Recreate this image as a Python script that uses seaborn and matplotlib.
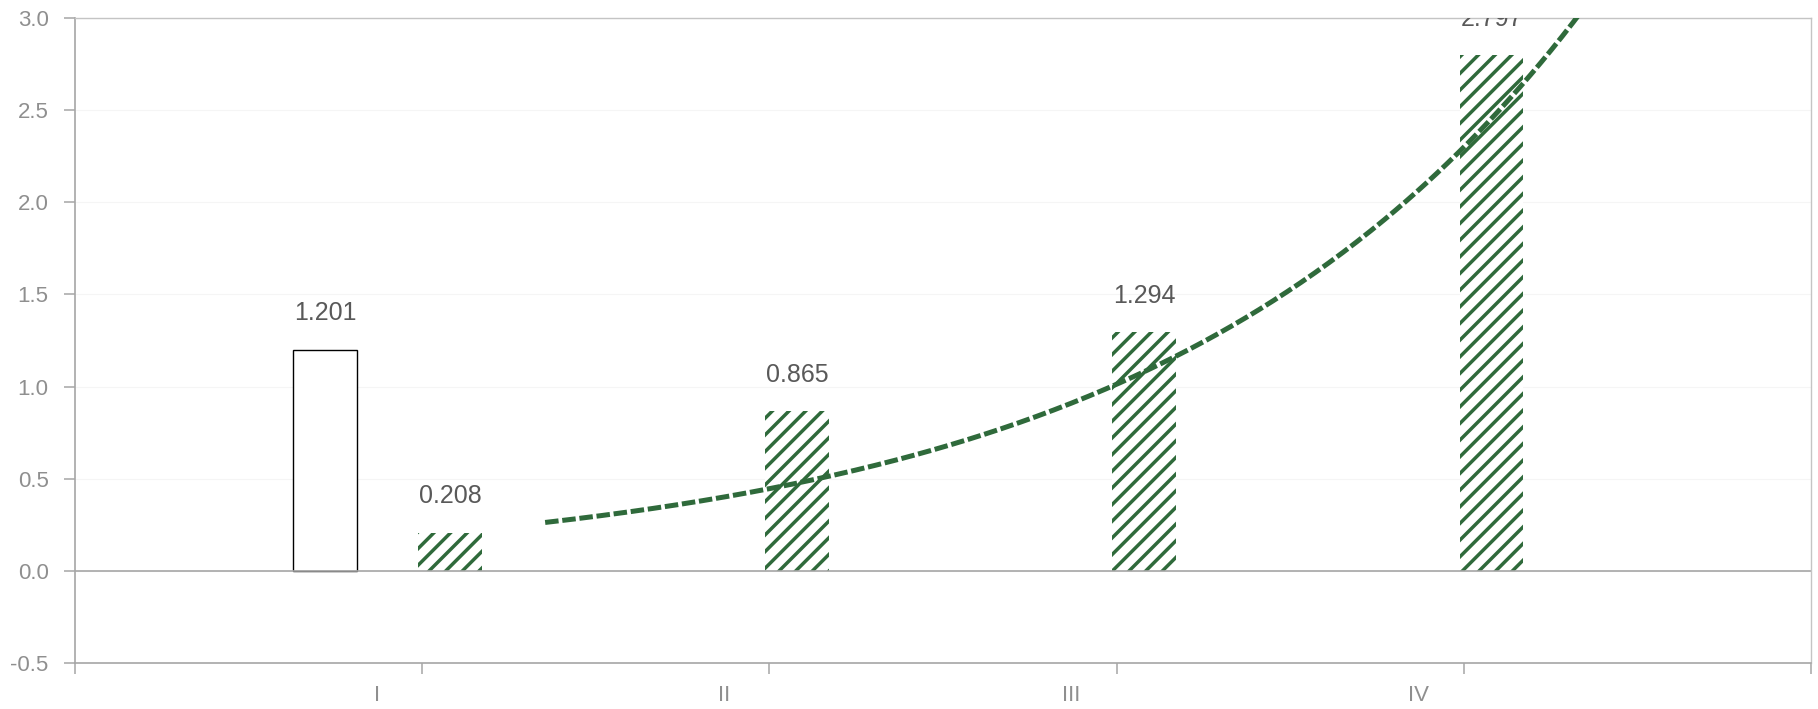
import numpy as np
import pandas as pd
import seaborn as sns
import matplotlib
matplotlib.use('Agg')
import matplotlib.pyplot as plt

# data
categories = ['I', 'II', 'III', 'IV']
base_cats = ['I']
base_vals = [1.201]
growth_vals = [0.208, 0.865, 1.294, 2.797]

green = '#2f6a3b'
label_grey = '#595959'
tick_grey = '#8f8f8f'
axis_grey = '#a6a6a6'

sns.set_style('white')
plt.rcParams['font.family'] = ['Liberation Sans', 'DejaVu Sans']
plt.rcParams['hatch.linewidth'] = 2.5

df = pd.concat([
    pd.DataFrame({'cat': base_cats, 'val': base_vals, 'series': 'base'}),
    pd.DataFrame({'cat': categories, 'val': growth_vals, 'series': 'growth'}),
])

fig = plt.figure(figsize=(18.18, 7.09), dpi=100)
ax = fig.add_axes([0.0413, 0.0649, 0.9548, 0.9097])

sns.barplot(data=df, x='cat', y='val', hue='series', order=categories,
            hue_order=['base', 'growth'], width=0.72, gap=0.49,
            palette=['white', 'white'], legend=False, ax=ax, zorder=2)

# style the two series
for bar in ax.containers[0]:
    bar.set_facecolor('white')
    bar.set_edgecolor('black')
    bar.set_linewidth(1.0)
for bar in ax.containers[1]:
    bar.set_facecolor('white')
    bar.set_edgecolor(green)
    bar.set_hatch('//')
    bar.set_linewidth(0)

# value labels above bars
for cont, vals in zip(ax.containers, [base_vals, growth_vals]):
    for bar, v in zip(cont, vals):
        cx = bar.get_x() + bar.get_width() / 2
        ax.annotate(f'{v:.3f}', (cx, v), xytext=(0, 26), textcoords='offset points',
                    ha='center', va='center', fontsize=18, color=label_grey,
                    annotation_clip=False, clip_on=True, zorder=4)

# exponential trend of the hatched series (Excel-style, x = 1..n)
t = np.arange(1, len(growth_vals) + 1)
b, a = np.polyfit(t, np.log(growth_vals), 1)
trend_shift = 0.454  # where t=1 sits on the category axis
tt = np.linspace(1, len(growth_vals), 300)
ax.plot(tt - 1 + trend_shift, np.exp(a + b * tt), color=green, lw=3.6,
        ls=(0, (2.7, 0.75)), zorder=3)

# axes
ax.set_ylim(-0.5, 3.0)
ax.set_yticks(np.arange(-0.5, 3.01, 0.5))
ax.yaxis.set_major_formatter(matplotlib.ticker.FormatStrFormatter('%.1f'))
ax.set_xlim(-0.90, 4.10)
ax.set_xticks(np.arange(len(categories)) - 0.03)
ax.set_xticklabels(categories)
ax.set_xticks(np.arange(-0.90, 4.11, 1.0), minor=True)
ax.set_xlabel('')
ax.set_ylabel('')

ax.tick_params(axis='y', direction='out', length=8, width=1.1, color=axis_grey,
               labelsize=16, labelcolor=tick_grey, pad=11, left=True)
ax.tick_params(axis='x', which='major', length=0, labelsize=16,
               labelcolor=tick_grey, pad=16)
ax.tick_params(axis='x', which='minor', direction='out', length=8, width=1.1,
               color=axis_grey, bottom=True)

for s in ['left', 'bottom']:
    ax.spines[s].set_color(axis_grey)
    ax.spines[s].set_linewidth(1.2)
for s in ['top', 'right']:
    ax.spines[s].set_visible(True)
    ax.spines[s].set_color('#c4c4c4')
    ax.spines[s].set_linewidth(1.0)

ax.yaxis.grid(True, color='#f5f5f5', lw=0.8, zorder=0)
ax.set_axisbelow(True)
ax.axhline(0, color=axis_grey, lw=1.2, zorder=2.5)

plt.savefig('out.png', dpi=100)
